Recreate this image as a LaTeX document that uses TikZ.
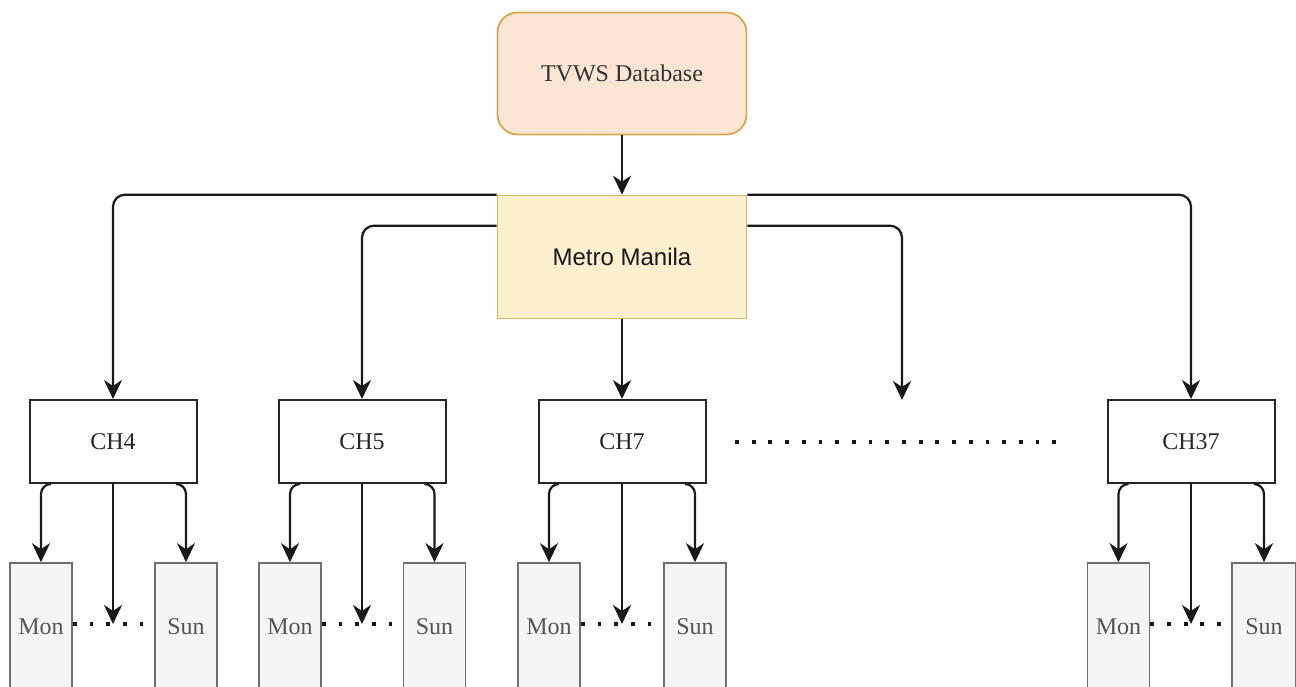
\documentclass[tikz,border=0pt]{standalone}
\usepackage{fontspec}
\setmainfont{Liberation Serif}
\newfontfamily\sansf{Liberation Sans}
\usetikzlibrary{arrows.meta,calc}
\definecolor{dbfill}{RGB}{250,230,211}
\definecolor{dbline}{RGB}{214,168,80}
\definecolor{mmfill}{RGB}{252,240,206}
\definecolor{mmline}{RGB}{216,184,96}
\definecolor{dayfill}{RGB}{245,245,245}
\definecolor{dayline}{RGB}{110,110,110}
\definecolor{daytext}{RGB}{85,85,85}
\begin{document}
\begin{tikzpicture}[x=1pt,y=-1pt,
  txt/.style={font=\fontsize{24}{28}\selectfont},
  dbbox/.style={txt,draw=dbline,fill=dbfill,line width=1.8pt,rounded corners=20pt,minimum width=249pt,minimum height=122pt,inner sep=0pt,text=black!80},
  mmbox/.style={txt,font=\sansf\fontsize{24}{28}\selectfont,draw=mmline,fill=mmfill,line width=1.6pt,minimum width=249pt,minimum height=123pt,inner sep=0pt,text=black!90},
  chbox/.style={txt,draw=black!85,line width=2pt,minimum width=167pt,minimum height=83pt,inner sep=0pt,text=black!85},
  daybox/.style={txt,draw=dayline,fill=dayfill,line width=1.6pt,minimum width=62pt,minimum height=128pt,inner sep=0pt,text=daytext},
  tipf/.tip={Stealth[length=19pt,width=18pt,inset=6pt]},
  arr/.style={draw=black!90,line width=2.2pt,-tipf},
  dotl/.style={draw=black!90,line width=3.8pt,dash pattern=on 3.8pt off 12.9pt},
]
\useasboundingbox (0,0) rectangle (1296,686);
\clip (0,0) rectangle (1296,686);

\node[dbbox] (db) at (622,73.5) {TVWS Database};
\node[mmbox] (mm) at (622,257) {Metro Manila};

\node[chbox] (ch4) at (113,441.5) {CH4};
\node[chbox] (ch5) at (362,441.5) {CH5};
\node[chbox] (ch7) at (622,441.5) {CH7};
\node[chbox] (ch37) at (1191,441.5) {CH37};
\coordinate (free) at (902,400);

\node[daybox] (m4) at (41,627) {Mon};
\node[daybox] (s4) at (186,627) {Sun};
\node[daybox] (m5) at (290,627) {Mon};
\node[daybox] (s5) at (434.5,627) {Sun};
\node[daybox] (m7) at (549,627) {Mon};
\node[daybox] (s7) at (695,627) {Sun};
\node[daybox] (m37) at (1118.5,627) {Mon};
\node[daybox,minimum width=64pt] (s37) at (1264,627) {Sun};

% top connectors
\draw[arr] (db.south) -- (mm.north);
\draw[arr] (mm.north west) [rounded corners=12pt] -| ([yshift=30pt]ch4.north) [sharp corners] -- (ch4.north);
\draw[arr] ([yshift=-31pt]mm.north west) [rounded corners=12pt] -| ([yshift=30pt]ch5.north) [sharp corners] -- (ch5.north);
\draw[arr] (mm.south) -- (ch7.north);
\draw[arr] ([yshift=-31pt]mm.north east) [rounded corners=12pt] -| ([yshift=30pt]free) [sharp corners] -- (free);
\draw[arr] (mm.north east) [rounded corners=12pt] -| ([yshift=30pt]ch37.north) [sharp corners] -- (ch37.north);

% ellipsis between channels
\coordinate (e1) at (735,442);
\coordinate (e2) at (1060,442);
\draw[dotl] (e1) -- (e2);

% day connectors
\foreach \c/\m/\s in {ch4/m4/s4,ch5/m5/s5,ch7/m7/s7,ch37/m37/s37}{
  \draw[dotl] ([yshift=3pt]\m.east) -- ([yshift=3pt]\s.west);
  \coordinate (mid-\c) at ($(\c.south |- \m.east)+(0,-3)$);
  \draw[arr] ([xshift=19pt]\c.south west) [rounded corners=10pt] -| ([yshift=30pt]\m.north) [sharp corners] -- (\m.north);
  \draw[arr] ([xshift=-19pt]\c.south east) [rounded corners=10pt] -| ([yshift=30pt]\s.north) [sharp corners] -- (\s.north);
  \draw[arr] (\c.south) -- (mid-\c);
}
\end{tikzpicture}
\end{document}
